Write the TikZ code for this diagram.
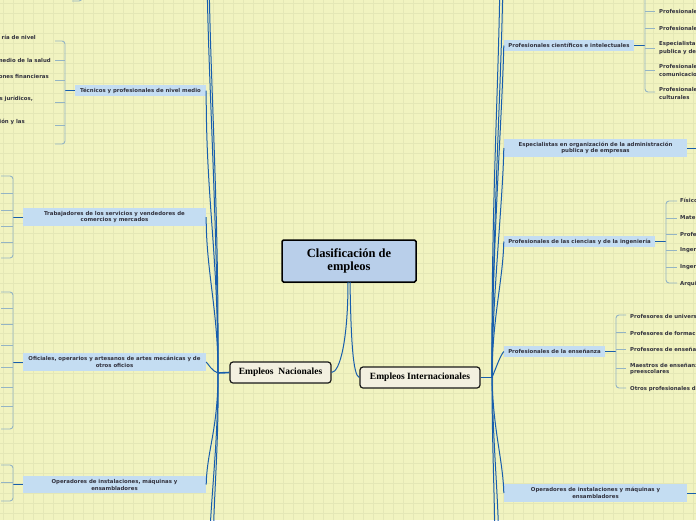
\documentclass[tikz,border=0pt]{standalone}
\usepackage{fontspec}
\setmainfont{Liberation Serif}
\newfontfamily\boxfont{DejaVu Sans}
\definecolor{bgc}{RGB}{241,243,192}
\definecolor{gridc}{RGB}{228,231,182}
\definecolor{connc}{RGB}{24,94,172}
\definecolor{brkc}{RGB}{148,180,196}
\definecolor{boxc}{RGB}{196,221,242}
\definecolor{mainc}{RGB}{185,207,234}
\definecolor{catc}{RGB}{243,240,224}
\definecolor{txtc}{RGB}{50,50,62}
\tikzset{
  conn/.style={draw=connc, line width=1pt},
  brk/.style={draw=brkc, line width=0.9pt, rounded corners=3pt},
  bluebox/.style={fill=boxc, inner sep=0pt, align=center, text=txtc,
     font=\boxfont\bfseries\fontsize{5.4}{6.8}\selectfont},
  ctext/.style={inner sep=0pt, text=txtc, font=\boxfont\bfseries\fontsize{5.4}{6}\selectfont},
  mainbox/.style={fill=mainc, draw=black, line width=1.5pt, rounded corners=1.5pt,
     inner sep=0pt, align=center, font=\bfseries\fontsize{12.5}{13.5}\selectfont},
  catbox/.style={fill=catc, draw=black!90, line width=1.2pt, rounded corners=3pt,
     inner sep=0pt, align=center, font=\bfseries\fontsize{9.5}{11}\selectfont}
}
\begin{document}
\begin{tikzpicture}[x=1pt,y=-1pt]
\useasboundingbox (0,0) rectangle (696,520);
\begin{scope}
\clip (0,0) rectangle (696,520);
\fill[bgc] (0,0) rectangle (696,520);
\foreach \x in {3,13,...,693} \draw[gridc, line width=0.5pt] (\x,0) -- (\x,520);
\foreach \y in {3,13,...,513} \draw[gridc, line width=0.5pt] (0,\y) -- (696,\y);

% main nodes
\node[mainbox, minimum width=134pt, minimum height=42pt] (main) at (349,261) {Clasificación de\\empleos};
\node[catbox, minimum width=101pt, minimum height=21pt] (nac) at (280.5,372.5) {Empleos\ \ Nacionales};
\node[catbox, minimum width=120pt, minimum height=21pt] (int) at (420,377.5) {Empleos Internacionales};

% left nodes
\node[bluebox, minimum width=131pt, minimum height=11pt] (tec) at (140.5,90.5) {Técnicos y profesionales de nivel medio};
\node[bluebox, minimum width=183pt, minimum height=18pt] (trab) at (114.5,217) {Trabajadores de los servicios y vendedores de\\comercios y mercados};
\node[bluebox, minimum width=183pt, minimum height=18pt] (ofi) at (114.5,362) {Oficiales, operarios y artesanos de artes mecánicas y de\\otros oficios};
\node[bluebox, minimum width=183pt, minimum height=17pt] (ope) at (114.5,484.5) {Operadores de instalaciones, máquinas y\\ensambladores};

% right nodes
\node[bluebox, minimum width=130pt, minimum height=11pt] (cie) at (569,45.5) {Profesionales científicos e intelectuales};
\node[bluebox, minimum width=183pt, minimum height=18pt] (esp) at (595.5,148) {Especialistas en organización de la administración\\publica y de empresas};
\node[bluebox, minimum width=151pt, minimum height=11pt] (ing) at (579.5,241.5) {Profesionales de las ciencias y de la ingeniería};
\node[bluebox, minimum width=101pt, minimum height=11pt] (ens) at (554.5,351.5) {Profesionales de la enseñanza};
\node[bluebox, minimum width=183pt, minimum height=18pt] (opr) at (595.5,493) {Operadores de instalaciones y máquinas y\\ensambladores};

% junctions and off-picture ends
\coordinate (JL) at (218,373);
\coordinate (JR) at (492,377.5);
\coordinate (TL1) at (207,-40);
\coordinate (TL2) at (209,-40);
\coordinate (BL1) at (209,560);
\coordinate (BL2) at (213,560);
\coordinate (TR1) at (500,-40);
\coordinate (TR2) at (503,-40);
\coordinate (BR1) at (495,560);
\coordinate (BR2) at (499,560);
\coordinate (EspEnd) at (700,148);
\coordinate (OprEnd) at (700,493);
\coordinate (TopBrk) at (645,-20);

% main connectors
\draw[conn] (348,282) .. controls (348,340) and (340,372) .. (nac.east);
\draw[conn] (350,282) .. controls (351,340) and (353,376) .. (int.west);
\draw[conn, line width=1.6pt] (nac.west) -- (JL);
\draw[conn, line width=1.6pt] (int.east) -- (JR);

% left fan
\draw[conn] (JL) .. controls (218,250) and (206,200) .. (tec.east);
\draw[conn] (JL) .. controls (217,200) and (207,60) .. (TL1);
\draw[conn] (JL) .. controls (219,200) and (209,60) .. (TL2);
\draw[conn] (JL) .. controls (218,310) and (206,270) .. (trab.east);
\draw[conn] (JL) .. controls (212,371) and (209,365) .. (ofi.east);
\draw[conn] (JL) .. controls (218,430) and (207,450) .. (ope.east);
\draw[conn] (JL) .. controls (218,450) and (210,500) .. (BL1);
\draw[conn] (JL) .. controls (219,450) and (213,500) .. (BL2);

% right fan
\draw[conn] (JR) .. controls (492,250) and (502,120) .. (cie.west);
\draw[conn] (JR) .. controls (491,200) and (500,60) .. (TR1);
\draw[conn] (JR) .. controls (493,200) and (503,60) .. (TR2);
\draw[conn] (JR) .. controls (492,300) and (503,200) .. (esp.west);
\draw[conn] (JR) .. controls (492,320) and (503,280) .. (ing.west);
\draw[conn] (JR) .. controls (496,368) and (500,356) .. (ens.west);
\draw[conn] (JR) .. controls (493,430) and (503,460) .. (opr.west);
\draw[conn] (JR) .. controls (492,450) and (495,500) .. (BR1);
\draw[conn] (JR) .. controls (493,450) and (499,500) .. (BR2);

% left brackets
\draw[brk] (72,1) -- (82,1) -- (82,-20);
\draw[conn] (tec.west) -- (65,90.5);
\draw[brk] (55,41) -- (65,41) -- (65,144) -- (55,144);
\foreach \y in {60,80,102,125} \draw[brk] (55,\y) -- (65,\y);
\node[ctext, anchor=east] (t1) at (36,37) {ría de nivel};
\node[ctext, anchor=east] (t2) at (51,60) {medio de la salud};
\node[ctext, anchor=east] (t3) at (49,76) {ones financieras};
\node[ctext, anchor=east] (t4) at (33,99) {s jurídicos,};
\node[ctext, anchor=east] (t5) at (25,122) {ión y las};

\draw[conn] (trab.west) -- (13,217);
\draw[brk] (1,176) -- (13,176) -- (13,258) -- (1,258);
\foreach \y in {193,210,226,242} \draw[brk] (1,\y) -- (13,\y);

\draw[conn] (ofi.west) -- (13,362);
\draw[brk] (1,292) -- (13,292) -- (13,429) -- (1,429);
\foreach \y in {308,324,345,367,387,406} \draw[brk] (1,\y) -- (13,\y);

\draw[conn] (ope.west) -- (13,484.5);
\draw[brk] (1,465) -- (13,465) -- (13,501) -- (1,501);
\draw[brk] (1,482) -- (13,482);

% right brackets
\draw[conn] (cie.east) -- (645,45.5);
\draw[brk] (TopBrk) -- (645,92) -- (655,92);
\foreach \y in {11,28,48,70} \draw[brk] (645,\y) -- (655,\y);
\node[ctext, anchor=west] (c1) at (659,11) {Profesionale};
\node[ctext, anchor=west] (c2) at (659,28) {Profesionale};
\node[ctext, anchor=west] (c3) at (659,44) {Especialista};
\node[ctext, anchor=west] (c3b) at (659,52) {publica y de};
\node[ctext, anchor=west] (c4) at (659,66.5) {Profesionale};
\node[ctext, anchor=west] (c4b) at (659,74) {comunicacio};
\node[ctext, anchor=west] (c5) at (659,89.5) {Profesionale};
\node[ctext, anchor=west] (c5b) at (659,97) {culturales};

\draw[conn] (esp.east) -- (EspEnd);

\draw[conn] (ing.east) -- (666,241.5);
\draw[brk] (677,201) -- (666,201) -- (666,283) -- (677,283);
\foreach \y in {218,234,250,267} \draw[brk] (666,\y) -- (677,\y);
\node[ctext, anchor=west] (i1) at (680,200.5) {Físico};
\node[ctext, anchor=west] (i2) at (680,218) {Mate};
\node[ctext, anchor=west] (i3) at (680,234) {Profe};
\node[ctext, anchor=west] (i4) at (680,250.5) {Ingen};
\node[ctext, anchor=west] (i5) at (680,267) {Ingen};
\node[ctext, anchor=west] (i6) at (680,284) {Arqui};

\draw[conn] (ens.east) -- (616,351.5);
\draw[brk] (626,315) -- (616,315) -- (616,388) -- (626,388);
\foreach \y in {332,349,368} \draw[brk] (616,\y) -- (626,\y);
\node[ctext, anchor=west] (e1) at (630,316) {Profesores de univers};
\node[ctext, anchor=west] (e2) at (630,333) {Profesores de formac};
\node[ctext, anchor=west] (e3) at (630,349) {Profesores de enseña};
\node[ctext, anchor=west] (e4) at (630,365.5) {Maestros de enseñanz};
\node[ctext, anchor=west] (e4b) at (630,372.5) {preescolares};
\node[ctext, anchor=west] (e5) at (630,389) {Otros profesionales d};

\draw[conn] (opr.east) -- (OprEnd);
\end{scope}
\end{tikzpicture}
\end{document}
